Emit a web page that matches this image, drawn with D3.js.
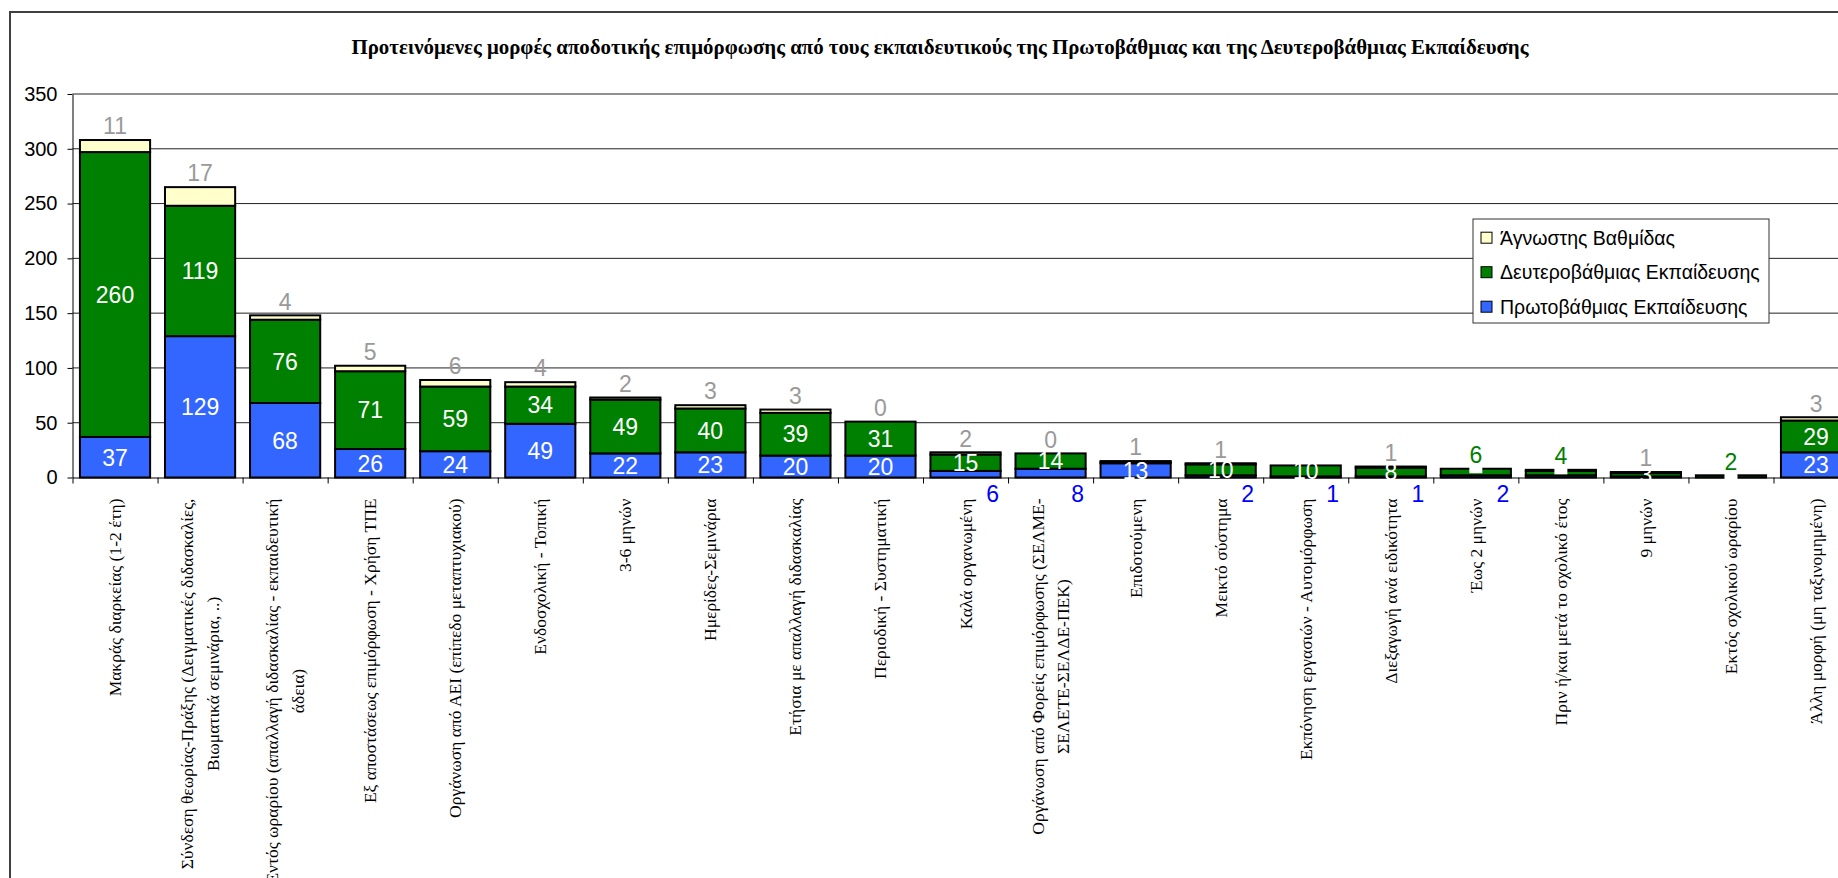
<!DOCTYPE html>
<html>
<head>
<meta charset="utf-8">
<script src="https://cdnjs.cloudflare.com/ajax/libs/d3/7.8.5/d3.min.js"></script>
<style>
  body { margin: 0; background: #fff; }
  .chart svg { display: block; }
</style>
</head>
<body>
<div class="chart"></div>
<script>
// Proposed forms of in-service training, stacked by level of education

// category labels (one entry per line of the rotated label)
var categories = [
  ["Μακράς διαρκείας (1-2 έτη)"],
  ["Σύνδεση θεωρίας-Πράξης (Δειγματικές διδασκαλίες,", "Βιωματικά σεμινάρια, ..)"],
  ["Εντός ωραρίου (απαλλαγή διδασκαλίας - εκπαιδευτική", "άδεια)"],
  ["Εξ αποστάσεως επιμόρφωση - Χρήση ΤΠΕ"],
  ["Οργάνωση από ΑΕΙ (επίπεδο μεταπτυχιακού)"],
  ["Ενδοσχολική - Τοπική"],
  ["3-6 μηνών"],
  ["Ημερίδες-Σεμινάρια"],
  ["Ετήσια με απαλλαγή διδασκαλίας"],
  ["Περιοδική - Συστηματική"],
  ["Καλά οργανωμένη"],
  ["Οργάνωση από Φορείς επιμόρφωσης (ΣΕΛΜΕ-", "ΣΕΛΕΤΕ-ΣΕΛΔΕ-ΠΕΚ)"],
  ["Επιδοτούμενη"],
  ["Μεικτό σύστημα"],
  ["Εκπόνηση εργασιών - Αυτομόρφωση"],
  ["Διεξαγωγή ανά ειδικότητα"],
  ["Έως 2 μηνών"],
  ["Πριν ή/και μετά το σχολικό έτος"],
  ["9 μηνών"],
  ["Εκτός σχολικού ωραρίου"],
  ["Άλλη μορφή (μη ταξινομημένη)"]
];

// series values
var primaryEd   = [37, 129, 68, 26, 24, 49, 22, 23, 20, 20, 6, 8, 13, 2, 1, 1, 2, 2, 1, 0, 23];
var secondaryEd = [260, 119, 76, 71, 59, 34, 49, 40, 39, 31, 15, 14, 1, 10, 10, 8, 6, 4, 3, 2, 29];
var unknownEd   = [11, 17, 4, 5, 6, 4, 2, 3, 3, 0, 2, 0, 1, 1, 0, 1, 0, 1, 1, 0, 3];

var seriesNames = ["Πρωτοβάθμιας Εκπαίδευσης", "Δευτεροβάθμιας Εκπαίδευσης", "Άγνωστης Βαθμίδας"];
var seriesColors = ["#3366ff", "#008000", "#ffffcc"];
var yTicks = [0, 50, 100, 150, 200, 250, 300, 350];

var title = "Προτεινόμενες μορφές αποδοτικής επιμόρφωσης από τους εκπαιδευτικούς της Πρωτοβάθμιας και της Δευτεροβάθμιας Εκπαίδευσης";

// which labels sit outside the bars (or are not shown) in the original
var primaryBelow = [10, 11, 13, 14, 15, 16];
var primaryHidden = [17, 18, 19];
var secondaryAbove = [16, 17, 19];
var secondaryHidden = [12];
var unknownHidden = [14, 16, 17, 19];

var svgWidth = 1838;
var svgHeight = 878;
var margin = { top: 94, left: 72.5 };

var step = 85.05;
var width = step * categories.length;
var height = 383.5;

var rows = categories.map(function(c, i) {
  return { index: i, p: primaryEd[i], s: secondaryEd[i], u: unknownEd[i] };
});

var svg = d3.select(".chart")
  .append("svg")
  .attr("width", svgWidth)
  .attr("height", svgHeight);

// outer chart frame
svg.append("rect")
  .attr("x", 10)
  .attr("y", 12)
  .attr("width", svgWidth + 20)
  .attr("height", svgHeight + 20)
  .attr("fill", "#fff")
  .attr("stroke", "#404040")
  .attr("stroke-width", 2);

svg.append("text")
  .attr("x", 940)
  .attr("y", 54)
  .attr("text-anchor", "middle")
  .attr("font-family", "'Liberation Serif', 'DejaVu Serif', serif")
  .attr("font-weight", "bold")
  .attr("font-size", "21px")
  .attr("textLength", 1177)
  .attr("lengthAdjust", "spacingAndGlyphs")
  .text(title);

var chart = svg.append("g")
  .attr("transform", "translate(" + margin.left + "," + margin.top + ")");

// scales
var x = d3.scaleBand()
  .domain(d3.range(categories.length))
  .range([0, width])
  .paddingInner(0.175)
  .paddingOuter(0.0875);

var boundary = d3.scaleLinear()
  .domain([0, categories.length])
  .range([0, width]);

var y = d3.scaleLinear()
  .domain([0, 350])
  .range([height, 0]);

// gridlines
chart.selectAll(".grid")
  .data(yTicks.slice(1))
  .enter().append("line")
  .attr("class", "grid")
  .attr("x1", 0)
  .attr("x2", width)
  .attr("y1", function(d) { return y(d); })
  .attr("y2", function(d) { return y(d); })
  .attr("stroke", "#222")
  .attr("stroke-width", 1);

// stacked bars
var stack = d3.stack().keys(["p", "s", "u"]);
var layers = stack(rows);

chart.selectAll(".layer")
  .data(layers)
  .enter().append("g")
  .attr("class", "layer")
  .attr("fill", function(d, i) { return seriesColors[i]; })
  .selectAll("rect")
  .data(function(d) { return d; })
  .enter().append("rect")
  .attr("x", function(d) { return x(d.data.index); })
  .attr("y", function(d) { return y(d[1]); })
  .attr("width", x.bandwidth())
  .attr("height", function(d) { return y(d[0]) - y(d[1]); })
  .attr("stroke", "#000")
  .attr("stroke-width", 2);

// axes
var leftAxis = d3.axisLeft(y)
  .tickValues(yTicks)
  .tickSize(5)
  .tickSizeOuter(0)
  .tickPadding(10);

var bottomAxis = d3.axisBottom(boundary)
  .tickValues(d3.range(categories.length + 1))
  .tickFormat("")
  .tickSize(6)
  .tickSizeOuter(0);

var yAxis = chart.append("g").call(leftAxis);
yAxis.selectAll("text")
  .attr("font-family", "'Liberation Sans', Arial, sans-serif")
  .attr("font-size", "20px")
  .attr("fill", "#000");
yAxis.selectAll("line").attr("stroke", "#000");
yAxis.select(".domain").attr("stroke", "#000");

var xAxis = chart.append("g")
  .attr("transform", "translate(0," + height + ")")
  .call(bottomAxis);
xAxis.selectAll("line").attr("stroke", "#000");
xAxis.select(".domain").attr("stroke", "#000");

// rotated category labels, lines centred on the longest one
var catLabels = chart.selectAll(".cat-label")
  .data(categories)
  .enter().append("text")
  .attr("class", "cat-label")
  .attr("transform", function(d, i) {
    return "translate(" + (x(i) + x.bandwidth() / 2) + "," + (height + 21) + ") rotate(-90)";
  })
  .attr("text-anchor", "middle")
  .attr("font-family", "'Liberation Serif', 'DejaVu Serif', serif")
  .attr("font-size", "17.5px")
  .attr("fill", "#000");

catLabels.each(function(lines) {
  var t = d3.select(this);
  var spans = lines.map(function(line, j) {
    return t.append("tspan")
      .attr("y", (j - (lines.length - 1) / 2) * 25.5 + 6)
      .text(line);
  });
  var longest = d3.max(spans, function(s) { return s.node().getComputedTextLength(); });
  spans.forEach(function(s) { s.attr("x", -longest / 2); });
});

var labelFont = "'Liberation Sans', Arial, sans-serif";

function addLabel(xPos, yPos, txt, color) {
  chart.append("text")
    .attr("x", xPos)
    .attr("y", yPos)
    .attr("dy", "0.36em")
    .attr("text-anchor", "middle")
    .attr("font-family", labelFont)
    .attr("font-size", "23px")
    .attr("fill", color)
    .text(txt);
}

layers.forEach(function(layer, k) {
  layer.forEach(function(d) {
    var i = d.data.index;
    var cx = x(i) + x.bandwidth() / 2;
    var value = d[1] - d[0];
    var top = y(rows[i].p + rows[i].s + rows[i].u);
    if (k === 0) {
      if (primaryHidden.indexOf(i) >= 0) return;
      if (primaryBelow.indexOf(i) >= 0) {
        addLabel(cx + 27, height + 16, value, "#0000ff");
      } else {
        addLabel(cx, y((d[0] + d[1]) / 2), value, "#fff");
      }
    } else if (k === 1) {
      if (secondaryHidden.indexOf(i) >= 0) return;
      if (secondaryAbove.indexOf(i) >= 0) {
        chart.append("rect")
          .attr("x", cx - 6.5)
          .attr("y", top - 12)
          .attr("width", 13)
          .attr("height", 16.5)
          .attr("fill", "#fff");
        addLabel(cx, top - 14, value, "#008000");
      } else {
        addLabel(cx, y((d[0] + d[1]) / 2), value, "#fff");
      }
    } else {
      if (unknownHidden.indexOf(i) >= 0) return;
      addLabel(cx, top - 14, value, "#999999");
    }
  });
});

// legend
var legend = svg.append("g")
  .attr("transform", "translate(1473,219)");

legend.append("rect")
  .attr("width", 296)
  .attr("height", 104)
  .attr("fill", "#fff")
  .attr("stroke", "#333")
  .attr("stroke-width", 1);

var legendOrder = [2, 1, 0];

var items = legend.selectAll(".item")
  .data(legendOrder)
  .enter().append("g")
  .attr("class", "item")
  .attr("transform", function(d, i) { return "translate(8," + (18.7 + i * 34.5) + ")"; });

items.append("rect")
  .attr("x", 0)
  .attr("y", -5.5)
  .attr("width", 11)
  .attr("height", 11)
  .attr("fill", function(d) { return seriesColors[d]; })
  .attr("stroke", "#000")
  .attr("stroke-width", 1);

items.append("text")
  .attr("x", 19)
  .attr("dy", "0.36em")
  .attr("font-family", labelFont)
  .attr("font-size", "19.5px")
  .attr("fill", "#000")
  .text(function(d) { return seriesNames[d]; });
</script>
</body>
</html>
